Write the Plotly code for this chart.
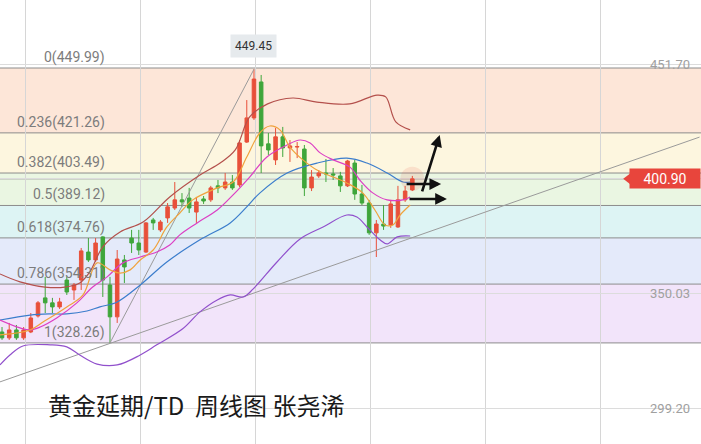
import plotly.graph_objects as go

# ---------------- data ----------------
weeks = list(range(58))
opens = [333.1, 330.5, 334.0, 330.5, 333.1, 340.2, 348.2, 346.0, 344.2, 356.1,
         351.7, 356.1, 368.5, 365.0, 375.2, 353.9, 339.8, 365.0, 374.7, 372.5,
         368.5, 382.7, 378.3, 383.6, 388.0, 391.6, 392.4, 386.2, 392.0, 391.6,
         397.8, 396.9, 399.5, 398.2, 417.2, 427.9, 443.8, 416.4, 409.3, 419.5,
         414.6, 415.0, 414.1, 396.9, 402.2, 403.5, 403.1, 402.2, 397.8, 407.9,
         394.2, 390.2, 377.0, 380.9, 380.5, 379.6, 391.6, 396.0]
highs = [335.3, 337.1, 336.2, 335.3, 341.5, 346.8, 357.5, 348.2, 348.2, 357.5,
         354.8, 370.3, 374.7, 374.7, 375.5, 357.5, 369.4, 367.2, 378.3, 378.3,
         381.8, 383.6, 382.7, 390.2, 399.5, 394.6, 396.9, 392.9, 393.3, 397.8,
         400.4, 403.5, 402.6, 418.1, 435.8, 449.45, 446.9, 421.2, 423.4, 423.9,
         418.1, 417.2, 415.9, 404.8, 404.8, 409.7, 405.7, 404.0, 409.3, 409.3,
         398.2, 391.6, 382.7, 389.3, 391.6, 397.8, 397.8, 402.2]
lows = [329.6, 329.6, 329.6, 329.6, 332.6, 339.5, 341.5, 341.5, 343.3, 349.5,
        347.3, 351.7, 364.1, 364.1, 348.6, 328.3, 337.1, 354.8, 368.1, 367.2,
        368.1, 378.3, 377.4, 381.4, 387.1, 388.5, 385.8, 381.4, 389.8, 390.7,
        394.6, 396.0, 396.0, 397.3, 416.8, 427.0, 403.5, 411.5, 407.05, 410.6,
        408.4, 410.1, 393.3, 395.5, 401.3, 399.5, 400.4, 395.1, 397.3, 391.6,
        389.3, 376.1, 366.3, 378.3, 379.2, 379.2, 390.7, 395.5]
closes = [330.5, 334.0, 330.5, 334.0, 339.3, 346.0, 346.0, 344.2, 346.4, 350.8,
          353.9, 369.0, 365.0, 372.5, 356.1, 339.8, 365.4, 361.9, 372.5, 369.4,
          381.4, 381.4, 381.8, 388.5, 391.6, 390.7, 388.0, 390.7, 391.1, 396.9,
          396.9, 399.5, 396.9, 416.8, 427.9, 445.1, 415.5, 413.7, 419.5, 414.6,
          415.5, 415.2, 396.9, 401.7, 403.5, 403.1, 402.6, 397.8, 408.8, 394.2,
          390.2, 377.0, 380.9, 380.0, 389.8, 391.6, 395.5, 400.9]

# Bollinger upper band
upper_x = [-0.28, 2.5, 5.97, 8.75, 10.8, 12.2, 14.0, 16.4, 19.6, 23.3, 27.5, 30.3,
           32.4, 34.4, 36.9, 40.4, 43.75, 48.3, 52.1, 53.3, 54.7, 56.7]
upper_y = [358.8, 355.3, 353.0, 353.0, 354.8, 359.7, 370.8, 377.4, 381.8, 392.9, 402.6, 407.9,
           413.7, 428.3, 434.1, 436.7, 434.9, 434.1, 438.0, 437.2, 426.1, 422.6]
# Bollinger lower band
lower_x = [-0.28, 1.1, 2.9, 6.7, 9.0, 10.8, 13.2, 16.0, 19.2, 21.5, 25.1, 27.5, 29.9,
           31.7, 33.5, 34.9, 38.2, 41.4, 44.6, 47.9, 49.3, 50.7, 52.5, 53.5, 54.9, 56.7]
lower_y = [318.5, 322.9, 326.9, 327.4, 326.5, 322.9, 318.9, 318.5, 322.9, 327.4, 334.5, 342.0, 347.3,
           349.5, 348.6, 352.2, 364.1, 374.3, 379.6, 384.9, 384.0, 379.6, 373.9, 372.1, 375.2, 375.6]
# MA10 (magenta)
ma10_x = [-0.28, 2.5, 3.9, 5.3, 7.6, 10.4, 12.6, 14.6, 16.8, 19.2, 21.5, 23.3, 24.7, 27.1,
          29.9, 32.1, 34.4, 36.8, 39.6, 41.4, 42.8, 44.2, 46.0, 48.3, 49.7, 51.5, 53.5, 55.7, 56.7]
ma10_y = [338.4, 334.9, 334.0, 335.3, 339.3, 346.0, 353.0, 357.5, 363.7, 366.3, 368.5, 371.6, 376.1, 381.4,
          387.1, 393.8, 401.7, 410.6, 415.9, 418.1, 416.8, 412.4, 409.3, 406.2, 400.4, 394.7, 391.6, 391.6, 392.9]
# MA20 (blue)
ma20_x = [-0.28, 3.9, 6.7, 9.0, 11.8, 13.6, 16.0, 19.2, 22.9, 27.5, 31.7, 34.0, 35.8,
          39.6, 43.75, 47.9, 50.7, 53.5, 55.7, 56.7]
ma20_y = [338.4, 340.6, 341.1, 341.1, 342.4, 344.2, 346.4, 353.9, 364.1, 373.9, 381.4, 388.5, 394.6,
          403.5, 407.9, 410.1, 407.9, 403.5, 399.5, 399.5]
# MA5 (orange)
ma5_x = [-0.28, 3.9, 5.7, 9.0, 11.25, 13.2, 15.0, 16.4, 17.8, 19.2, 21.0, 22.9, 24.7, 26.5,
         29.9, 32.1, 34.0, 35.8, 37.2, 38.6, 40.0, 41.8, 43.75, 46.0, 47.9, 50.1, 51.8, 53.2,
         54.3, 55.3, 56.7]
ma5_y = [331.8, 334.0, 337.5, 344.2, 349.5, 363.7, 360.6, 359.2, 360.6, 365.0, 369.4, 379.6, 385.8, 391.6,
         396.9, 399.5, 410.6, 421.2, 424.3, 422.6, 415.0, 409.3, 404.8, 401.7, 399.1, 394.7, 387.1, 380.5,
         380.5, 384.9, 389.3]

# Fibonacci retracement
fib_ratios = ["0", "0.236", "0.382", "0.5", "0.618", "0.786", "1"]
fib_levels = [449.99, 421.26, 403.49, 389.12, 374.76, 354.31, 328.26]
fib_colors = ["#fde6d8", "#fdf6df", "#eaf6e2", "#ddf4f4", "#e4eafa", "#f2e4fa"]

# Trend lines
support_x = [-0.28, 96.9]
support_y = [311.0, 419.4]
swing_x = [15, 35]
swing_y = [328.26, 449.45]

# Arrows (tail -> head)
arrow_tail_x = [58.3, 56.0, 56.4]
arrow_tail_y = [394.7, 398.6, 392.0]
arrow_head_x = [60.8, 61.0, 61.8]
arrow_head_y = [420.3, 398.6, 392.0]

y_ticks = [299.20, 350.03, 400.86, 451.70]
y_tick_text = ["299.20", "350.03", "", "451.70"]
last_price = 400.90
peak_price = 449.45
peak_week = 35
title_text = "黄金延期/TD\u00a0\u00a0周线图 张尧浠"

# ---------------- figure ----------------
RED = "#e8503a"
GREEN = "#3fa63b"

fig = go.Figure()

fig.add_trace(go.Scatter(x=support_x, y=support_y, mode="lines",
                         line=dict(color="#9a9a9a", width=1), hoverinfo="skip"))
fig.add_trace(go.Scatter(x=swing_x, y=swing_y, mode="lines",
                         line=dict(color="#9a9a9a", width=1), hoverinfo="skip"))

fig.add_trace(go.Candlestick(
    x=weeks, open=opens, high=highs, low=lows, close=closes,
    increasing=dict(line=dict(color=RED, width=1), fillcolor=RED),
    decreasing=dict(line=dict(color=GREEN, width=1), fillcolor=GREEN),
    whiskerwidth=0, hoverinfo="skip"))

for xs, ys, col in [(upper_x, upper_y, "#b4504c"), (lower_x, lower_y, "#9150cc"),
                    (ma20_x, ma20_y, "#3b7dcc"), (ma10_x, ma10_y, "#dc3fc4"),
                    (ma5_x, ma5_y, "#f0a23c")]:
    fig.add_trace(go.Scatter(x=xs, y=ys, mode="lines", line=dict(color=col, width=1.2, shape="spline"),
                             hoverinfo="skip"))

# glow on last candle
fig.add_trace(go.Scatter(x=[weeks[-1]], y=[last_price], mode="markers",
                         marker=dict(size=24, color="rgba(232,80,58,0.13)", line=dict(width=0)),
                         hoverinfo="skip"))

shapes = []
for i in range(len(fib_levels) - 1):
    shapes.append(dict(type="rect", xref="paper", yref="y", x0=0, x1=1,
                       y0=fib_levels[i + 1], y1=fib_levels[i], fillcolor=fib_colors[i],
                       line=dict(width=0), layer="below"))
for lv in fib_levels:
    shapes.append(dict(type="line", xref="paper", yref="y", x0=0, x1=1, y0=lv, y1=lv,
                       line=dict(color="#8c8c8c", width=1), layer="between"))
shapes.append(dict(type="line", xref="paper", yref="y", x0=0, x1=0.9, y0=last_price, y1=last_price,
                   line=dict(color="#9a9a9a", width=1), layer="between"))
# pointer of the price tag
shapes.append(dict(type="path", xref="paper", yref="y",
                   path=f"M 0.889 {last_price} L 0.899 {last_price + 2.4} L 0.899 {last_price - 2.4} Z",
                   fillcolor="#e8453c", line=dict(width=0), layer="above"))

annotations = []
for r, lv in zip(fib_ratios, fib_levels):
    annotations.append(dict(xref="paper", yref="y", x=0.153, y=lv, xanchor="right", yanchor="bottom",
                            text=f"{r}({lv:.2f})", showarrow=False,
                            font=dict(family="Roboto", size=14, color="#7c7c7c")))
for tx, ty, hx, hy in zip(arrow_tail_x, arrow_tail_y, arrow_head_x, arrow_head_y):
    annotations.append(dict(x=hx, y=hy, ax=tx, ay=ty, xref="x", yref="y", axref="x", ayref="y",
                            showarrow=True, arrowhead=2, arrowsize=0.9, arrowwidth=2.6,
                            arrowcolor="#111111", text=""))
annotations.append(dict(x=peak_week, y=peak_price, xref="x", yref="y", yanchor="bottom", yshift=11,
                        text=f"{peak_price:.2f}", showarrow=False, bgcolor="#e6eaed", borderpad=4,
                        font=dict(family="Roboto", size=12, color="#333333")))
annotations.append(dict(xref="paper", yref="y", x=1, y=last_price, xanchor="right", yanchor="middle",
                        text=f"{last_price:.2f}", showarrow=False, bgcolor="#e8453c", width=66, height=15,
                        borderpad=2, font=dict(family="Roboto", size=14, color="#ffffff")))
annotations.append(dict(xref="paper", yref="paper", x=46 / 701, y=1 - 404 / 444, xanchor="left",
                        yanchor="middle", text=title_text, showarrow=False,
                        font=dict(family="Noto Sans CJK SC", size=24, color="#1a1a1a")))

fig.update_layout(
    width=701, height=444, margin=dict(l=0, r=0, t=0, b=0),
    paper_bgcolor="#ffffff", plot_bgcolor="#ffffff", showlegend=False,
    shapes=shapes, annotations=annotations,
    xaxis=dict(range=[-0.28, 97.1], showticklabels=False, showgrid=True, gridcolor="#d6d6d6",
               tick0=3.2, dtick=16, zeroline=False, rangeslider=dict(visible=False), fixedrange=True),
    yaxis=dict(range=[283.5, 480.1], side="right", ticklabelposition="inside", tickvals=y_ticks,
               ticktext=y_tick_text, showgrid=True, gridcolor="#dcdcdc", zeroline=False,
               ticklabelstandoff=8,
               tickfont=dict(family="Roboto", size=13, color="#a0a0a0"), fixedrange=True),
)

fig.write_html("out.html", config={"displayModeBar": False},
               post_script="document.body.style.margin='0';document.body.style.overflow='hidden';")
